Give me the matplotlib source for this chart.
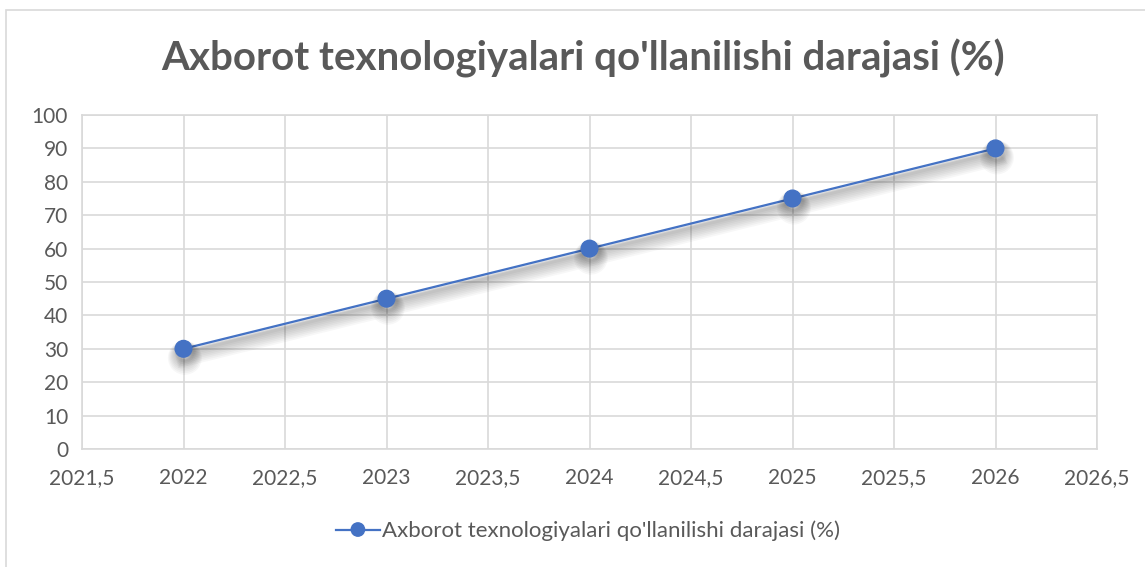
import matplotlib.pyplot as plt
import matplotlib.patheffects as pe
from matplotlib.ticker import FuncFormatter, MultipleLocator

years = [2022, 2023, 2024, 2025, 2026]
values = [30, 45, 60, 75, 90]
series_name = "Axborot texnologiyalari qo'llanilishi darajasi (%)"
title = "Axborot texnologiyalari qo'llanilishi darajasi (%)"

blue = "#4472C4"
text_gray = "#595959"
grid_gray = "#D9D9D9"

plt.rcParams['font.family'] = ['Lato', 'DejaVu Sans']

fig = plt.figure(figsize=(11.45, 5.67), dpi=100)
W, H = 1145, 567

# chart frame like Excel
fig.add_artist(plt.Rectangle((6 / W, -0.1), 1.2, 1 - 10 / H + 0.1,
                             transform=fig.transFigure, fill=False,
                             edgecolor=grid_gray, linewidth=1.2))

ax = fig.add_axes([82 / W, 1 - 449 / H, (1097 - 82) / W, (449 - 115) / H])

# soft shadow under the line
shadow = []
for i in range(8):
    shadow.append(pe.SimpleLineShadow(offset=(1.0, -3.0 - i * 0.5),
                                      shadow_color='black', alpha=0.03,
                                      linewidth=2 + i * 1.5))
ax.plot(years, values, color=blue, linewidth=1.6, marker='o', markersize=12,
        markeredgecolor=blue, label=series_name, zorder=3,
        path_effects=shadow + [pe.Normal()])

ax.set_xlim(2021.5, 2026.5)
ax.set_ylim(0, 100)
ax.xaxis.set_major_locator(MultipleLocator(0.5))
ax.yaxis.set_major_locator(MultipleLocator(10))


def fmt(x, pos):
    s = f"{x:g}"
    return s.replace('.', ',')


ax.xaxis.set_major_formatter(FuncFormatter(fmt))
ax.grid(True, color=grid_gray, linewidth=1.2)
ax.set_axisbelow(True)
for s in ax.spines.values():
    s.set_color(grid_gray)
    s.set_linewidth(1.2)
ax.tick_params(length=0, colors=text_gray, labelsize=15)
ax.tick_params(axis='x', pad=14)
ax.tick_params(axis='y', pad=10)

fig.text(583 / W, 1 - 58 / H, title, ha='center', va='center',
         fontsize=29, fontweight='bold', color=text_gray)

leg = fig.legend(loc='center', bbox_to_anchor=(588 / W, 1 - 531 / H),
                 frameon=False, fontsize=16, labelcolor=text_gray,
                 handlelength=2.0, handletextpad=0.1, markerscale=0.8)
for h in leg.legend_handles:
    h.set_path_effects([pe.Normal()])

fig.savefig('out.png', dpi=100)
